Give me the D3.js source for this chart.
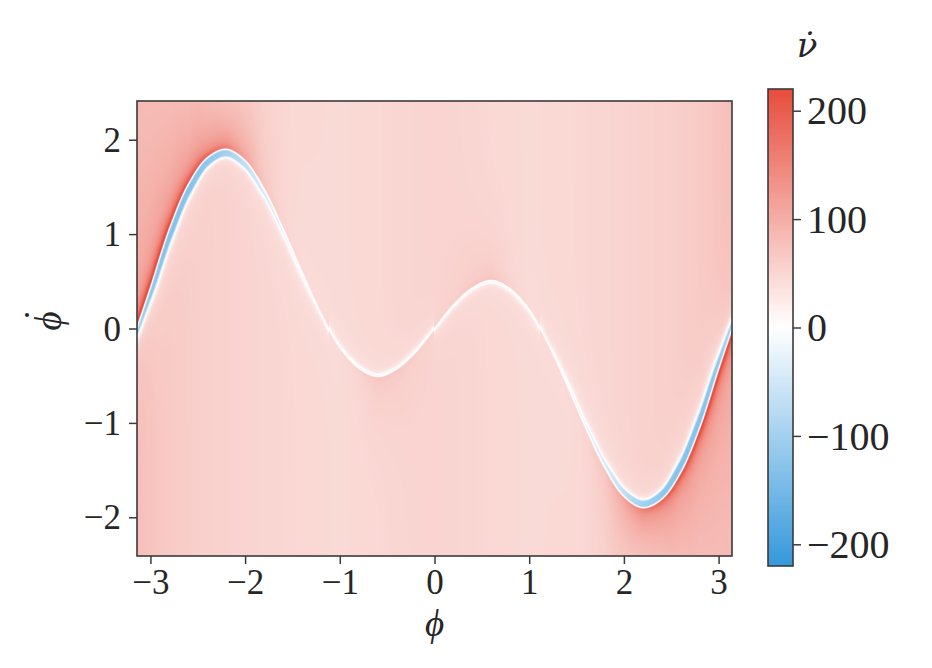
<!DOCTYPE html>
<html><head><meta charset="utf-8">
<script src="https://cdn.jsdelivr.net/npm/d3@7"></script>
<style>body{margin:0;background:#fff} svg{display:block}</style>
</head><body>
<svg id="chart" width="932" height="668"></svg>
<script>
// ---------------- data ----------------
const phiTicks = [-3, -2, -1, 0, 1, 2, 3];
const phidotTicks = [-2, -1, 0, 1, 2];
const cbarTicks = [-200, -100, 0, 100, 200];
const phiDomain = [-Math.PI, Math.PI];
const phidotDomain = [-2.41, 2.41];
const valueDomain = [-220, 0, 220];
const colorStops = ["#3498db", "#ffffff", "#e74c3c"];

// ridge of the field: phi, phidot of the sign-switching curve
const ridgePhi    = [-3.14,-3.0,-2.8,-2.6,-2.4,-2.2,-2.0,-1.8,-1.6,-1.4,-1.2,-1.0,-0.8,-0.6,-0.4,-0.2,0,0.2,0.4,0.6,0.8,1.0,1.2,1.4,1.6,1.8,2.0,2.2,2.4,2.6,2.8,3.0,3.14];
const ridgePhidot = [0.02,0.44,1.06,1.53,1.81,1.90,1.78,1.48,1.06,0.60,0.16,-0.20,-0.42,-0.51,-0.43,-0.25,0,0.25,0.43,0.51,0.42,0.20,-0.16,-0.60,-1.06,-1.48,-1.78,-1.90,-1.81,-1.53,-1.06,-0.44,-0.02];
// nu-dot excess of the red stripe just outside the ridge
const outerPeak   = [175,175,165,135,90,40,15,8,5,3,1,3,8,15,12,5,0,5,12,15,8,3,1,3,5,8,15,40,90,135,165,175,175];
// nu-dot excess of the broad glow outside the ridge
const outerGlow   = [40,50,60,72,82,85,55,18,0,-5,-4,-3,5,18,14,5,0,5,14,18,5,-3,-4,-5,0,18,55,85,82,72,60,50,40];
// nu-dot drop of the band just inside the ridge
const innerDrop   = [150,165,170,165,155,135,105,80,65,55,30,40,55,60,55,50,40,50,55,60,55,40,30,55,65,80,105,135,155,165,170,165,150];
// thickness of that band, in phidot units
const innerSpan   = [0.025,0.035,0.05,0.06,0.065,0.07,0.05,0.03,0.018,0.014,0.008,0.01,0.012,0.015,0.012,0.01,0.01,0.01,0.012,0.015,0.012,0.01,0.008,0.014,0.018,0.03,0.05,0.07,0.065,0.06,0.05,0.035,0.025];
// background level of nu-dot across phi
const bgPhi   = [-3.14,-2.9,-2.6,-2.2,-1.8,-1.4,-1.0,-0.6,-0.2,0,0.2,0.6,1.0,1.4,1.8,2.2,2.6,2.9,3.14];
const bgLevel = [80,68,60,55,51,48,46,48,52,53,52,48,46,48,51,55,60,68,80];

// ---------------- layout ----------------
const svg = d3.select("#chart");
const plot = {left: 137, right: 732, top: 101, bottom: 556};
const cbar = {left: 768, right: 793, top: 89, bottom: 566};
const ink = "#262626", frameCol = "#3a3a3a";
const serif = "'Liberation Serif','DejaVu Serif',serif";
const markSerif = "'DejaVu Serif',serif";
const fmt = d => d < 0 ? "\u2212" + Math.abs(d) : String(d);

const x = d3.scaleLinear().domain(phiDomain).range([plot.left, plot.right]);
const y = d3.scaleLinear().domain(phidotDomain).range([plot.bottom, plot.top]);
const color = d3.scaleLinear().domain(valueDomain).range(colorStops).clamp(true);
const cy = d3.scaleLinear().domain([valueDomain[0], valueDomain[2]]).range([cbar.bottom, cbar.top]);

// ---------------- ridge path (via scales) ----------------
const ridgeLine = d3.line()
  .x((d, i) => x(ridgePhi[i]))
  .y((d, i) => y(ridgePhidot[i]))
  .curve(d3.curveCatmullRom.alpha(0.5));
const ridgePath = svg.append("path").attr("d", ridgeLine(ridgePhi))
  .attr("fill", "none").attr("stroke", "none");
const node = ridgePath.node();
const L = node.getTotalLength();
const pts = [];
for (let k = 0; k <= 6000; k++) { const p = node.getPointAtLength(L * k / 6000); pts.push([p.x, p.y]); }
pts.sort((a, b) => a[0] - b[0]);
const bis = d3.bisector(d => d[0]).left;
function ridgeY(px) {
  let k = bis(pts, px);
  if (k <= 0) return pts[0][1];
  if (k >= pts.length) return pts[pts.length - 1][1];
  const a = pts[k - 1], b = pts[k];
  const t = b[0] === a[0] ? 0 : (px - a[0]) / (b[0] - a[0]);
  return a[1] + t * (b[1] - a[1]);
}
const fOuter = d3.scaleLinear().domain(ridgePhi).range(outerPeak).clamp(true);
const fGlow  = d3.scaleLinear().domain(ridgePhi).range(outerGlow).clamp(true);
const fDrop  = d3.scaleLinear().domain(ridgePhi).range(innerDrop).clamp(true);
const fSpan  = d3.scaleLinear().domain(ridgePhi).range(innerSpan).clamp(true);
const fBg    = d3.scaleLinear().domain(bgPhi).range(bgLevel).clamp(true);
const pxPerUnit = Math.abs(y(1) - y(0));

// ---------------- heatmap raster ----------------
const pw = Math.round(plot.right - plot.left), ph = Math.round(plot.bottom - plot.top);
const canvas = document.createElement("canvas");
canvas.width = pw; canvas.height = ph;
const ctx = canvas.getContext("2d");
const img = ctx.createImageData(pw, ph);
const lut = [];
for (let v = -220; v <= 220; v++) { const c = d3.rgb(color(v)); lut.push([c.r, c.g, c.b]); }
for (let i = 0; i < pw; i++) {
  const px = plot.left + i + 0.5;
  const phi = x.invert(px);
  const ry = ridgeY(px);
  const slope = (ridgeY(px + 0.75) - ridgeY(px - 0.75)) / 1.5;
  const cosT = 1 / Math.sqrt(1 + slope * slope);
  const outSign = y.invert(ry) >= 0 ? -1 : 1;  // outside = away from phidot = 0
  const base = fBg(phi), op = fOuter(phi), gl = fGlow(phi), dr = fDrop(phi);
  const span = fSpan(phi) * pxPerUnit;
  for (let j = 0; j < ph; j++) {
    const py = plot.top + j + 0.5;
    const s = (py - ry) * outSign * cosT;
    let v = base;
    if (s >= 0) {
      v += gl * Math.exp(-s / 36) + op * Math.exp(-s / 3.5);
    } else {
      const u = -s;
      const band = u <= span ? 1 : Math.exp(-(u - span) / 1.8);
      v += -dr * band - 0.2 * dr * Math.exp(-u / 12);
    }
    v *= 1 - 0.95 * Math.exp(-Math.pow((s + 0.2) / 1.0, 2));
    const k = Math.max(0, Math.min(440, Math.round(v) + 220));
    const c = lut[k];
    const idx = (j * pw + i) * 4;
    img.data[idx] = c[0]; img.data[idx + 1] = c[1]; img.data[idx + 2] = c[2]; img.data[idx + 3] = 255;
  }
}
ctx.putImageData(img, 0, 0);
svg.append("image")
  .attr("x", plot.left).attr("y", plot.top).attr("width", pw).attr("height", ph)
  .attr("preserveAspectRatio", "none")
  .attr("href", canvas.toDataURL());

// ---------------- axes ----------------
svg.append("rect").attr("x", plot.left).attr("y", plot.top)
  .attr("width", plot.right - plot.left).attr("height", plot.bottom - plot.top)
  .attr("fill", "none").attr("stroke", frameCol).attr("stroke-width", 1.6);

const xAxis = svg.append("g").attr("transform", `translate(0,${plot.bottom})`)
  .call(d3.axisBottom(x).tickValues(phiTicks).tickSize(8).tickPadding(5).tickFormat(fmt));
const yAxis = svg.append("g").attr("transform", `translate(${plot.left},0)`)
  .call(d3.axisLeft(y).tickValues(phidotTicks).tickSize(8).tickPadding(8).tickFormat(fmt));
[xAxis, yAxis].forEach(g => {
  g.select(".domain").remove();
  g.selectAll(".tick line").attr("stroke", frameCol).attr("stroke-width", 1.5);
  g.selectAll(".tick text").attr("fill", ink).style("font-family", serif).style("font-size", "35px");
});
xAxis.selectAll(".tick text").attr("dy", "0.72em");
yAxis.selectAll(".tick text").attr("dy", "0.33em");

// x label
svg.append("text").attr("x", x(0)).attr("y", 636).attr("text-anchor", "middle")
  .attr("fill", ink).style("font-family", serif).style("font-style", "italic").style("font-size", "37px")
  .text("\u03D5");
// y label (phi with dot)
const yl = svg.append("text").attr("transform", `translate(61,${y(0) + 2}) rotate(-90)`)
  .attr("fill", ink).style("font-family", serif).style("font-style", "italic").style("font-size", "37px");
yl.append("tspan").text("\u03D5");
yl.append("tspan").attr("dx", "-0.33em").attr("dy", "-0.3em").text("\u02D9");

// ---------------- colorbar ----------------
const defs = svg.append("defs");
const grad = defs.append("linearGradient").attr("id", "cbgrad")
  .attr("x1", 0).attr("y1", 1).attr("x2", 0).attr("y2", 0);
valueDomain.forEach((v, i) => {
  grad.append("stop")
    .attr("offset", (v - valueDomain[0]) / (valueDomain[2] - valueDomain[0]))
    .attr("stop-color", colorStops[i]);
});
svg.append("rect").attr("x", cbar.left).attr("y", cbar.top)
  .attr("width", cbar.right - cbar.left).attr("height", cbar.bottom - cbar.top)
  .attr("fill", "url(#cbgrad)").attr("stroke", frameCol).attr("stroke-width", 1.6);
const cAxis = svg.append("g").attr("transform", `translate(${cbar.right},0)`)
  .call(d3.axisRight(cy).tickValues(cbarTicks).tickSize(8).tickPadding(6).tickFormat(fmt));
cAxis.select(".domain").remove();
cAxis.selectAll(".tick line").attr("stroke", frameCol).attr("stroke-width", 1.5);
cAxis.selectAll(".tick text").attr("fill", ink).attr("dy", "0.33em")
  .style("font-family", serif).style("font-size", "40px");
svg.append("text").attr("x", 807).attr("y", 57).attr("text-anchor", "middle")
  .attr("fill", ink).style("font-family", markSerif).style("font-style", "italic").style("font-size", "34px")
  .text("\u03BD\u0307");
</script>
</body></html>
